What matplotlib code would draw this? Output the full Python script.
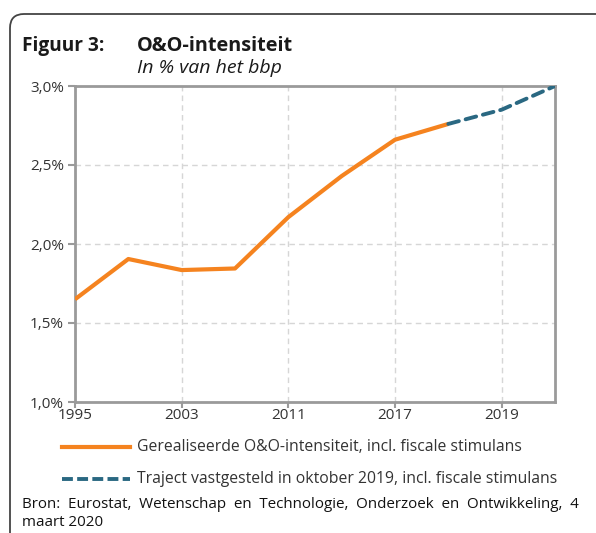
import matplotlib
matplotlib.use("Agg")
import matplotlib.pyplot as plt
from matplotlib.patches import FancyBboxPatch
from matplotlib.lines import Line2D
from matplotlib.transforms import IdentityTransform

# Data
years = ["1995", "1999", "2003", "2007", "2011", "2014", "2017", "2018", "2019", "2020"]
realised = [1.65, 1.905, 1.835, 1.845, 2.17, 2.43, 2.66, 2.76]
traject_years = ["2018", "2019", "2020"]
traject = [2.76, 2.85, 3.0]
yticks = [1.0, 1.5, 2.0, 2.5, 3.0]
xtick_labels = ["1995", "2003", "2011", "2017", "2019"]

ORANGE = "#F5831F"
TEAL = "#2A6882"
SPINE = "#9a9a9a"
GRID = "#d6d6d6"
FONT = "Open Sans"

plt.rcParams["font.family"] = [FONT, "DejaVu Sans"]

fig = plt.figure(figsize=(5.96, 5.33), dpi=100)
ax = fig.add_axes([75 / 596, 1 - 402 / 533, 480 / 596, 316 / 533])

x_real = [years.index(y) for y in years[:len(realised)]]
x_traj = [years.index(y) for y in traject_years]

ax.plot(x_real, realised, color=ORANGE, lw=3.0, solid_capstyle="butt", zorder=3)
ax.plot(x_traj, traject, color=TEAL, lw=2.8, dashes=(2.8, 1.8), dash_capstyle="round", zorder=3)

ax.set_xlim(0, len(years) - 1)
ax.set_ylim(1.0, 3.0)
ax.set_yticks(yticks)
ax.set_yticklabels([f"{v:.1f}%".replace(".", ",") for v in yticks])
ax.set_xticks([years.index(y) for y in xtick_labels])
ax.set_xticklabels(xtick_labels)

ax.grid(True, color=GRID, ls=(0, (4, 3)), lw=1.0, zorder=0)
for s in ax.spines.values():
    s.set_color(SPINE)
    s.set_linewidth(2.0)
ax.tick_params(axis="y", length=5, width=1.5, color=SPINE, labelsize=11, pad=3, labelcolor="#333333")
ax.tick_params(axis="x", length=4, width=1.5, color=SPINE, labelsize=11, pad=0, labelcolor="#333333")

# titles
fig.text(22 / 596, 1 - 51 / 533, "Figuur 3:", fontsize=13.8, fontweight="bold", color="#1a1a1a")
fig.text(137 / 596, 1 - 51 / 533, "O&O-intensiteit", fontsize=14.3, fontweight="bold", color="#1a1a1a")
fig.text(137 / 596, 1 - 73 / 533, "In % van het bbp", fontsize=14, style="italic", color="#1a1a1a")

# legend
fig.add_artist(Line2D([62 / 596, 130 / 596], [1 - 447 / 533] * 2, color=ORANGE, lw=3.0,
                      transform=fig.transFigure))
fig.add_artist(Line2D([62 / 596, 130 / 596], [1 - 479 / 533] * 2, color=TEAL, lw=2.8,
                      dashes=(2.8, 1.1), transform=fig.transFigure))
fig.text(137 / 596, 1 - 447 / 533, "Gerealiseerde O&O-intensiteit, incl. fiscale stimulans",
         fontsize=11.3, va="center", color="#333333")
fig.text(137 / 596, 1 - 479 / 533, "Traject vastgesteld in oktober 2019, incl. fiscale stimulans",
         fontsize=11.3, va="center", color="#333333")

# source
fig.text(22 / 596, 1 - 505 / 533,
         "Bron:  Eurostat,  Wetenschap  en  Technologie,  Onderzoek  en  Ontwikkeling,  4",
         fontsize=10.9, va="center", color="#111111")
fig.text(22 / 596, 1 - 522 / 533, "maart 2020", fontsize=10.9, va="center", color="#111111")

# frame (top and left edges with rounded corner)
frame = FancyBboxPatch((10, -30), 640, 533 - 14 + 30, boxstyle="round,pad=0,rounding_size=14",
                       transform=IdentityTransform(), fill=False, ec="#444444", lw=1.3)
fig.add_artist(frame)

fig.savefig("out.png", dpi=100)
